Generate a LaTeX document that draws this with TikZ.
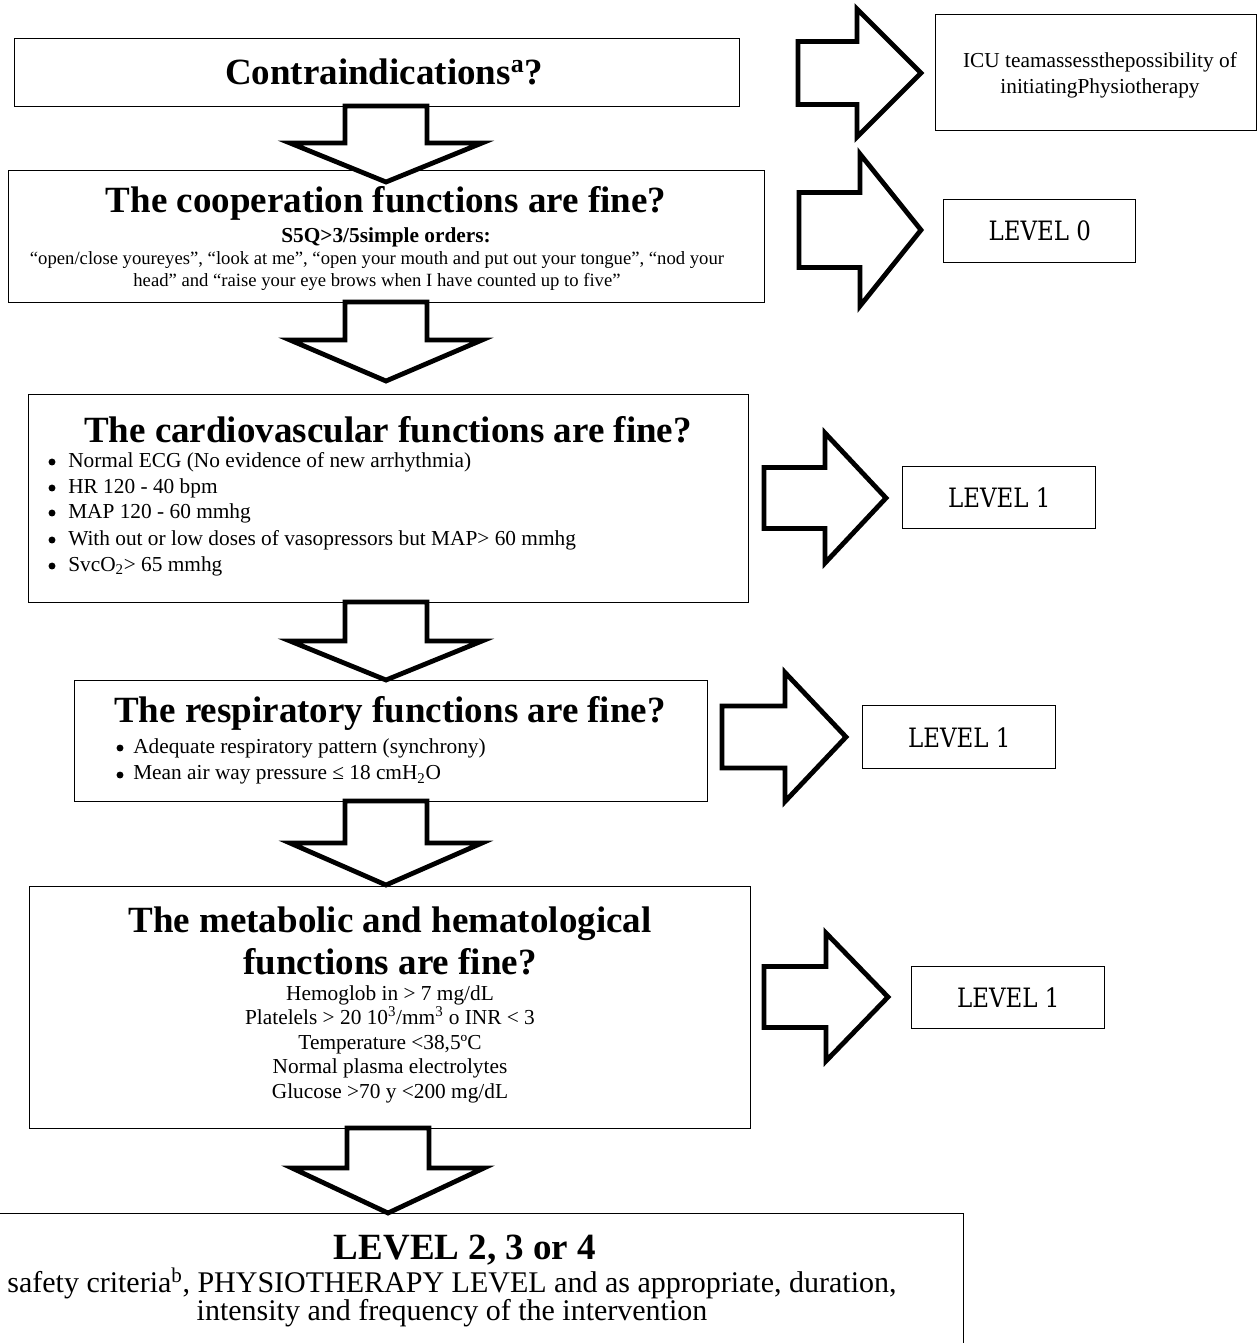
\documentclass[tikz,border=0pt]{standalone}
\usepackage{fontspec}
\setmainfont{Liberation Serif}
\newfontfamily\lvlfont[FakeStretch=0.86]{DejaVu Serif}
\newcommand\pbox[5]{\node[box, anchor=north west, minimum width={(#4-(#2))*0.75pt}, minimum height={(#5-(#3))*0.75pt}] (#1) at (#2,#3) {};}
% down block arrow: cx, top, base, tip
\newcommand\blkdown[4]{\draw[blk] (#1-41,#2) -- (#1-41,#3) -- (#1-96,#3) -- (#1,#4) -- (#1+96,#3) -- (#1+41,#3) -- (#1+41,#2) -- cycle;}
% right block arrow: xleft, xbase, xtip, cy, shaft half, head half
\newcommand\blkright[6]{\draw[blk] (#1,#4-#5) -- (#2,#4-#5) -- (#2,#4-#6) -- (#3,#4) -- (#2,#4+#6) -- (#2,#4+#5) -- (#1,#4+#5) -- cycle;}
\newcommand\bul[5]{\node[txt, anchor=west] (#1) at (#3,#4) {#5};\fill[black] (#2,#4) circle[radius=2.6pt];}
\begin{document}
\begin{tikzpicture}[x=0.75pt,y=-0.75pt,
  box/.style={draw=black, line width=1.1pt, fill=white, inner sep=0pt},
  blk/.style={draw=black, fill=white, line width=3.6pt, line join=miter, miter limit=10},
  ttl/.style={font=\fontsize{27.75}{31.5}\selectfont\bfseries, inner sep=0pt, align=center},
  txt/.style={font=\fontsize{16}{19.5}\selectfont, inner sep=0pt},
  sml/.style={font=\fontsize{14}{16.5}\selectfont, inner sep=0pt, align=center},
  lvl/.style={font=\lvlfont\fontsize{20}{24}\selectfont, inner sep=0pt}]
\clip (0,0) rectangle (1259,1343);
\fill[white] (0,0) rectangle (1259,1343);
% boxes
\pbox{b1}{14}{38}{739}{106}
\pbox{b2}{8}{170}{764}{302}
\pbox{b3}{28}{394}{748}{602}
\pbox{b4}{74}{680}{707}{801}
\pbox{b5}{29}{886}{750}{1128}
\pbox{b6}{-5}{1213}{963}{1360}
\pbox{icu}{935}{14}{1256}{130}
\pbox{l0}{943}{199}{1135}{262}
\pbox{l1a}{902}{466}{1095}{528}
\pbox{l1b}{862}{705}{1055}{768}
\pbox{l1c}{911}{966}{1104}{1028}
% down arrows
\blkdown{386}{106}{143}{182}
\blkdown{386}{302}{340}{381}
\blkdown{386}{602}{641}{680}
\blkdown{386}{801}{843}{885}
\blkdown{388}{1128}{1168}{1213}
% right arrows
\blkright{798}{857}{921}{73}{31.5}{64}
\blkright{799}{860}{921}{230}{37.5}{76}
\blkright{764}{825}{886}{498}{30.5}{65}
\blkright{722}{785}{846}{737}{31}{64.5}
\blkright{764}{826}{888}{997}{30.5}{64}
% texts
\node[ttl] (t1) at (384,72) {Contraindications\textsuperscript{a}?};
\node[ttl] (t2) at (386,203) {The cooperation functions are fine?};
\node[font=\fontsize{16}{19}\selectfont\bfseries, inner sep=0pt] (t2s) at (386,237) {S5Q>3/5simple orders:};
\node[sml] (t2b) at (377,271) {“open/close youreyes”, “look at me”, “open your mouth and put out your tongue”, “nod your\\ head” and “raise your eye brows when I have counted up to five”};
\node[ttl] (t3) at (388,430) {The cardiovascular functions are fine?};
\bul{c1}{52}{68}{462}{Normal ECG (No evidence of new arrhythmia)}
\bul{c2}{52}{68}{488}{HR 120 - 40 bpm}
\bul{c3}{52}{68}{513}{MAP 120 - 60 mmhg}
\bul{c4}{52}{68}{540}{With out or low doses of vasopressors but MAP> 60 mmhg}
\bul{c5}{52}{68}{566}{SvcO\textsubscript{2}> 65 mmhg}
\node[ttl] (t4) at (390,713) {The respiratory functions are fine?};
\bul{r1}{120}{133}{748}{Adequate respiratory pattern (synchrony)}
\bul{r2}{120}{133}{775}{Mean air way pressure ≤ 18 cmH\textsubscript{2}O}
\node[ttl] (t5) at (390,941) {The metabolic and hematological\\functions are fine?};
\node[txt, align=center, font=\fontsize{16}{18.4}\selectfont] (t5b) at (390,1044) {Hemoglob in > 7 mg/dL\\Platelels > 20 10\textsuperscript{3}/mm\textsuperscript{3} o INR < 3\\Temperature <38,5ºC\\Normal plasma electrolytes\\Glucose >70 y <200 mg/dL};
\node[ttl] (t6) at (465,1250) {LEVEL 2, 3 or 4};
\node[inner sep=0pt, align=center, font=\fontsize{22.5}{21}\selectfont] (t6b) at (452,1297) {safety criteria\textsuperscript{b}, PHYSIOTHERAPY LEVEL and as appropriate, duration,\\intensity and frequency of the intervention};
\node[txt, align=center] (ticu) at (1100,75) {ICU teamassessthepossibility of\\initiatingPhysiotherapy};
\node[lvl] (tl0) at (l0) {LEVEL 0};
\node[lvl] (tl1a) at (l1a) {LEVEL 1};
\node[lvl] (tl1b) at (l1b) {LEVEL 1};
\node[lvl] (tl1c) at (l1c) {LEVEL 1};
\end{tikzpicture}
\end{document}
